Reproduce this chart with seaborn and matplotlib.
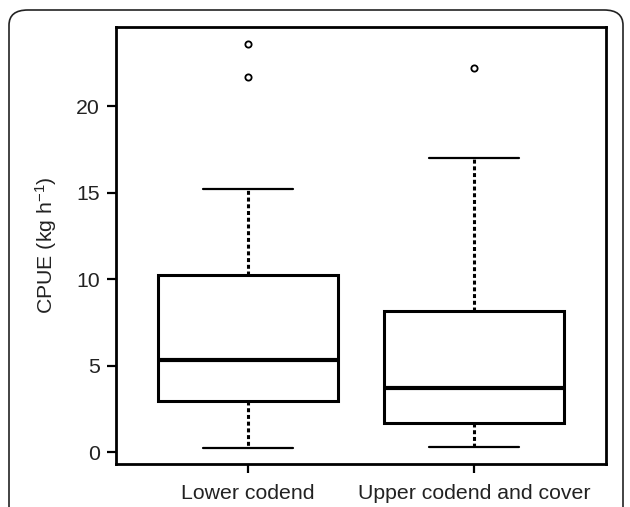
import numpy as np
import pandas as pd
import matplotlib
matplotlib.use("Agg")
import matplotlib.pyplot as plt
from matplotlib.patches import FancyBboxPatch
import seaborn as sns

# Values (CPUE, kg per hour)
groups = ["Lower codend", "Upper codend and cover"]
whisker_low = [0.25, 0.31]
q1 = [2.97, 1.66]
median = [5.30, 3.68]
q3 = [10.23, 8.15]
whisker_high = [15.2, 17.0]
outlier_group = ["Lower codend", "Lower codend", "Upper codend and cover"]
outlier_value = [21.66, 23.6, 22.2]

# five-number summaries as long-form table (whiskers span min..max)
rows = []
for i, g in enumerate(groups):
    for v in (whisker_low[i], q1[i], median[i], q3[i], whisker_high[i]):
        rows.append({"group": g, "cpue": v})
box_df = pd.DataFrame(rows)
out_df = pd.DataFrame({"group": outlier_group, "cpue": outlier_value})

sns.set_style("white")
plt.rcParams['font.family'] = ['Liberation Sans', 'DejaVu Sans']
plt.rcParams['mathtext.fontset'] = 'custom'
plt.rcParams['mathtext.rm'] = 'Liberation Sans'
plt.rcParams['mathtext.it'] = 'Liberation Sans:italic'

fig = plt.figure(figsize=(6.3, 5.07), dpi=100)
ax = fig.add_axes([116 / 630, 1 - 464 / 507, 490 / 630, 437 / 507])

sns.boxplot(data=box_df, x="group", y="cpue", order=groups, ax=ax,
            color="white", linecolor="black", linewidth=2.2, width=0.8,
            whis=(0, 100), fliersize=0,
            medianprops={"linewidth": 3.0},
            whiskerprops={"linewidth": 2.2, "linestyle": (0, (1.3, 0.9))},
            capprops={"linewidth": 1.6})

sns.stripplot(data=out_df, x="group", y="cpue", order=groups, ax=ax,
              jitter=False, marker="o", size=4.5, color="white",
              edgecolor="black", linewidth=1.3, zorder=5)

ax.set_xlim(-0.584, 1.584)
ax.set_ylim(-0.69, 24.57)
ax.set_yticks([0, 5, 10, 15, 20])
ax.set_xlabel("")
ax.set_ylabel(r"CPUE (kg h$^{-1}$)", fontsize=15.3, color="#222222")
ax.yaxis.set_label_coords(-0.116, 0.5)

for s in ax.spines.values():
    s.set_visible(True)
    s.set_color("black")
    s.set_linewidth(2.0)

ax.tick_params(axis="both", direction="out", length=6.5, width=1.6,
               color="black", labelsize=15.3, labelcolor="#222222",
               left=True, bottom=True)
ax.tick_params(axis="y", pad=5)
ax.tick_params(axis="x", pad=8)

# rounded outer frame of the figure panel (bottom edge runs off the page)
frame = FancyBboxPatch((9 / 630, -0.1), (623 - 9) / 630, 1 - 10 / 507 + 0.1,
                       boxstyle="round,pad=0,rounding_size=0.03",
                       transform=fig.transFigure, fill=False,
                       edgecolor="#222222", linewidth=1.2, clip_on=False)
fig.patches.append(frame)

fig.savefig("out.png", dpi=100)
